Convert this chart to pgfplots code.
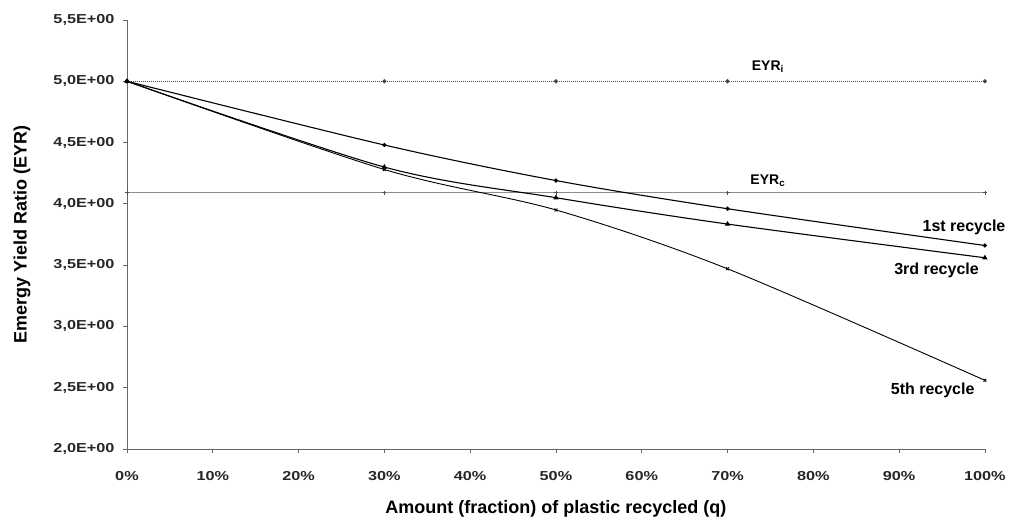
\documentclass[border=0pt]{standalone}
\usepackage{fontspec}
\setmainfont{Liberation Sans}
\newfontfamily\tickfont{Liberation Sans}[FakeStretch=1.25]
\usepackage{pgfplots}
\pgfplotsset{compat=1.18}
\begin{document}
\begin{tikzpicture}
\begin{axis}[
  scale only axis,
  width=858pt, height=429pt,
  xmin=0, xmax=100, ymin=2, ymax=5.5,
  clip=false,
  axis lines=left,
  axis line style={-, draw=gray!80!black, line width=0.9pt},
  tick style={draw=gray!80!black, line width=0.8pt},
  tick align=outside,
  major tick length=4pt,
  xtick={0,10,...,100},
  xticklabels={0\%,10\%,20\%,30\%,40\%,50\%,60\%,70\%,80\%,90\%,100\%},
  ytick={2,2.5,3,3.5,4,4.5,5,5.5},
  yticklabels={{2,0E+00},{2,5E+00},{3,0E+00},{3,5E+00},{4,0E+00},{4,5E+00},{5,0E+00},{5,5E+00}},
  ticklabel style={font=\tickfont\bfseries\fontsize{13}{15}\selectfont, text=black!85},
  xticklabel style={yshift=-15pt},
  yticklabel style={xshift=-5pt},
  xlabel={Amount (fraction) of plastic recycled (q)},
  ylabel={Emergy Yield Ratio (EYR)},
  label style={font=\bfseries\fontsize{18}{20}\selectfont},
  xlabel style={at={(axis description cs:0.5,-0.14)}, anchor=center},
  ylabel style={at={(axis description cs:-0.1224,0.5)}, anchor=center},
]
% EYR_i
\addplot[gray!60!black, densely dotted, line width=1pt, mark=*, mark size=1.6pt, mark options={solid, fill=black!80}]
  coordinates {(0,5.0) (30,5.0) (50,5.0) (70,5.0) (100,5.0)};
% EYR_c
\addplot[gray!90, line width=0.7pt, mark=+, mark size=2pt, mark options={solid, gray!60!black}]
  coordinates {(0,4.09) (30,4.09) (50,4.09) (70,4.09) (100,4.09)};
% 1st recycle
\addplot[black, line width=1.1pt, smooth, mark=*, mark size=1.5pt]
  coordinates {(0,5.0) (30,4.48) (50,4.19) (70,3.96) (100,3.66)};
% 3rd recycle
\addplot[black, line width=1.1pt, smooth, mark=triangle*, mark size=2pt]
  coordinates {(0,5.0) (30,4.30) (50,4.05) (70,3.835) (100,3.56)};
% 5th recycle
\addplot[black, line width=0.9pt, smooth, mark=x, mark size=2pt]
  coordinates {(0,5.0) (30,4.28) (50,3.95) (70,3.47) (100,2.56)};
\node[font=\bfseries\fontsize{16}{18}\selectfont, anchor=east] at (axis cs:102.8,3.805) {1st recycle};
\node[font=\bfseries\fontsize{16}{18}\selectfont, anchor=east] at (axis cs:99.7,3.455) {3rd recycle};
\node[font=\bfseries\fontsize{16}{18}\selectfont, anchor=east] at (axis cs:99.2,2.48) {5th recycle};
\node[font=\bfseries\fontsize{14}{16}\selectfont] at (axis cs:74.7,5.12) {EYR\textsubscript{i}};
\node[font=\bfseries\fontsize{14}{16}\selectfont] at (axis cs:74.7,4.19) {EYR\textsubscript{c}};
\end{axis}
\path[use as bounding box] (current axis.south west) ++(-127pt,-68pt) rectangle ++(1009pt,517pt);
\end{tikzpicture}
\end{document}
